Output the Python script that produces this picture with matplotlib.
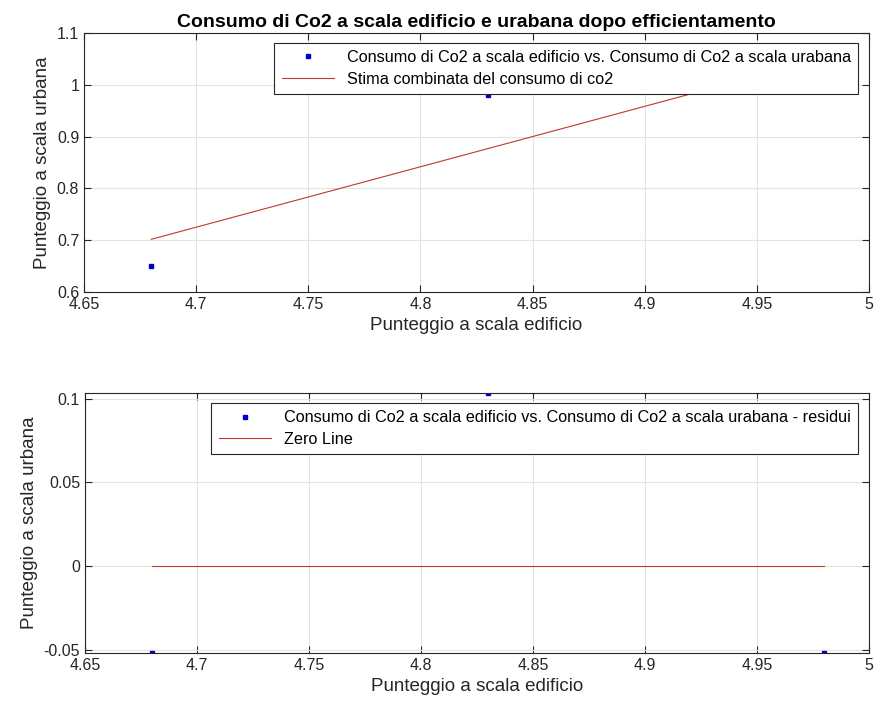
import matplotlib
matplotlib.use('Agg')
import matplotlib.pyplot as plt

# data
x_edificio = [4.68, 4.83, 4.98]
y_urbana = [0.65, 0.98, 1.00]
fit_x = [4.68, 4.98]
fit_y = [0.7017, 1.0517]
residui = [-0.0517, 0.1033, -0.0517]
zero_x = [4.68, 4.98]
zero_y = [0.0, 0.0]

xticks = [4.65, 4.7, 4.75, 4.8, 4.85, 4.9, 4.95, 5]
xticklabels = ['4.65', '4.7', '4.75', '4.8', '4.85', '4.9', '4.95', '5']

plt.rcParams['font.family'] = ['Liberation Sans', 'DejaVu Sans']
plt.rcParams['font.size'] = 11

fig = plt.figure(figsize=(8.77, 7.08), dpi=100)
ax1 = fig.add_axes([0.0958, 0.5876, 0.8950, 0.3658])
ax2 = fig.add_axes([0.0969, 0.0777, 0.8939, 0.3672])

def style(ax):
    ax.grid(True, color='#e3e3e3', linewidth=0.8)
    ax.set_axisbelow(True)
    ax.tick_params(direction='in', top=True, right=True, labelsize=11.5,
                   length=5, color='#262626', labelcolor='#262626')
    for s in ax.spines.values():
        s.set_color('#262626')
        s.set_linewidth(0.8)

# top: data and fit
ax1.plot(x_edificio, y_urbana, 's', color='#0000cc', markersize=2.8,
         label='Consumo di Co2 a scala edificio vs. Consumo di Co2 a scala urabana')
ax1.plot(fit_x, fit_y, '-', color='#c0392b', linewidth=0.8,
         label='Stima combinata del consumo di co2')
ax1.set_xlim(4.65, 5)
ax1.set_ylim(0.6, 1.1)
ax1.set_xticks(xticks)
ax1.set_xticklabels(xticklabels)
ax1.set_yticks([0.6, 0.7, 0.8, 0.9, 1.0, 1.1])
ax1.set_yticklabels(['0.6', '0.7', '0.8', '0.9', '1', '1.1'])
ax1.set_xlabel('Punteggio a scala edificio', fontsize=13.5, color='#262626')
ax1.set_ylabel('Punteggio a scala urbana', fontsize=13.5, color='#262626')
ax1.set_title('Consumo di Co2 a scala edificio e urabana dopo efficientamento',
              fontsize=14, fontweight='bold', pad=4)
style(ax1)
leg1 = ax1.legend(loc='upper right', bbox_to_anchor=(0.986, 0.962), borderaxespad=0,
                  fontsize=11.7, fancybox=False, framealpha=1, edgecolor='#262626',
                  handlelength=3.2, borderpad=0.45, labelspacing=0.4)
leg1.get_frame().set_linewidth(0.8)

# bottom: residuals
ax2.plot(x_edificio, residui, 's', color='#0000cc', markersize=2.8,
         label='Consumo di Co2 a scala edificio vs. Consumo di Co2 a scala urabana - residui')
ax2.plot(zero_x, zero_y, '-', color='#c0392b', linewidth=0.8, label='Zero Line')
ax2.set_xlim(4.65, 5)
ax2.set_ylim(min(residui), max(residui))
ax2.set_xticks(xticks)
ax2.set_xticklabels(xticklabels)
ax2.set_yticks([-0.05, 0, 0.05, 0.1])
ax2.set_yticklabels(['-0.05', '0', '0.05', '0.1'])
ax2.set_xlabel('Punteggio a scala edificio', fontsize=13.5, color='#262626')
ax2.set_ylabel('Punteggio a scala urbana', fontsize=13.5, color='#262626')
style(ax2)
leg2 = ax2.legend(loc='upper right', bbox_to_anchor=(0.986, 0.962), borderaxespad=0,
                  fontsize=11.7, fancybox=False, framealpha=1, edgecolor='#262626',
                  handlelength=3.2, borderpad=0.45, labelspacing=0.4)
leg2.get_frame().set_linewidth(0.8)

fig.savefig('out.png', dpi=100)
